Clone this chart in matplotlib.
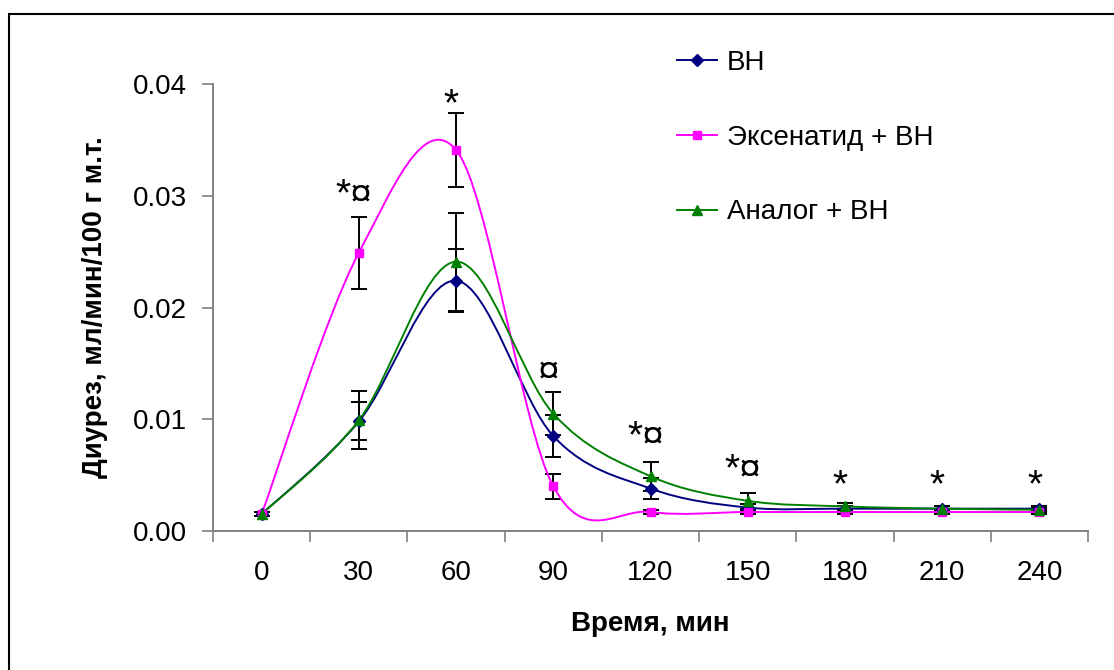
import numpy as np
import matplotlib
matplotlib.use('Agg')
import matplotlib.pyplot as plt
from matplotlib.path import Path
from matplotlib.patches import PathPatch
from matplotlib.lines import Line2D

plt.rcParams['font.family'] = ['Liberation Sans', 'DejaVu Sans']

# Time points (min)
times = [0, 30, 60, 90, 120, 150, 180, 210, 240]

# Diuresis, ml/min/100 g b.w.
vn_mean = [0.0015, 0.0098, 0.0224, 0.0085, 0.0038, 0.0021, 0.0020, 0.0020, 0.0020]
vn_err = [0.0002, 0.0017, 0.0028, 0.0019, 0.0009, 0.0003, 0.0002, 0.0002, 0.0002]
exe_mean = [0.0015, 0.0249, 0.0341, 0.0040, 0.0017, 0.0017, 0.0017, 0.0017, 0.0017]
exe_err = [0.0002, 0.0032, 0.0033, 0.0011, 0.0002, 0.0002, 0.0002, 0.0002, 0.0002]
ana_mean = [0.0015, 0.0099, 0.0241, 0.0105, 0.0049, 0.0027, 0.0022, 0.0020, 0.0019]
ana_err = [0.0002, 0.0026, 0.0044, 0.0019, 0.0013, 0.0007, 0.0003, 0.0002, 0.0002]

# significance marks: (time index, label, y)
marks_idx = [1, 2, 3, 4, 5, 6, 7, 8]
marks_txt = ['*¤', '*', '¤', '*¤', '*¤', '*', '*', '*']
marks_y = [0.0300, 0.0381, 0.0142, 0.0084, 0.0054, 0.0040, 0.0040, 0.0040]

series = [
    ('ВН', vn_mean, vn_err, '#000080', 'D', 6),
    ('Эксенатид + ВН', exe_mean, exe_err, '#FF00FF', 's', 6),
    ('Аналог + ВН', ana_mean, ana_err, '#008000', '^', 7),
]


def smooth_path(xs, ys):
    """Excel-like smoothed line as cubic Bezier segments"""
    n = len(xs)
    verts = [(xs[0], ys[0])]
    codes = [Path.MOVETO]
    for i in range(n - 1):
        a = i - 1 if i > 0 else i
        b = i + 2 if i + 2 < n else i + 1
        c1 = (xs[i] + (xs[i + 1] - xs[a]) / 6, ys[i] + (ys[i + 1] - ys[a]) / 6)
        c2 = (xs[i + 1] - (xs[b] - xs[i]) / 6, ys[i + 1] - (ys[b] - ys[i]) / 6)
        verts += [c1, c2, (xs[i + 1], ys[i + 1])]
        codes += [Path.CURVE4] * 3
    return Path(verts, codes)


fig = plt.figure(figsize=(11.14, 6.70), dpi=100)
ax = fig.add_axes([213 / 1114, 1 - 531 / 670, 875 / 1114, 447 / 670])

x = np.arange(len(times))
handles = []
for label, mean, err, color, marker, ms in series:
    ax.errorbar(x, mean, yerr=err, fmt='none', ecolor='black', elinewidth=1.4,
                capsize=6, capthick=1.4, zorder=2)
    ax.add_patch(PathPatch(smooth_path(x, mean), facecolor='none', edgecolor=color,
                           linewidth=1.4, zorder=3))
    ax.plot(x, mean, linestyle='none', marker=marker, markersize=ms, color=color, zorder=4)
    handles.append(Line2D([], [], color=color, linewidth=1.4, marker=marker, markersize=ms))

for i, txt, yv in zip(marks_idx, marks_txt, marks_y):
    ax.text(x[i] - 0.05, yv, txt, ha='center', va='center', fontsize=28)

ax.set_xlim(-0.5, len(times) - 0.5)
ax.set_ylim(0, 0.04)
ax.set_yticks([0, 0.01, 0.02, 0.03, 0.04])
ax.set_yticklabels(['0.00', '0.01', '0.02', '0.03', '0.04'])

# category axis: ticks between categories, labels at the centres
ax.set_xticks(np.arange(len(times) + 1) - 0.5)
ax.set_xticklabels([])
ax.set_xticks(x, minor=True)
ax.set_xticklabels([str(t) for t in times], minor=True)
ax.tick_params(axis='x', which='minor', length=0, pad=21, labelsize=20)
ax.tick_params(axis='x', which='major', length=8, width=1.2, color='#808080', direction='out')
ax.tick_params(axis='y', length=8, width=1.2, color='#808080', direction='out', pad=11,
               labelsize=20)

for side in ['top', 'right']:
    ax.spines[side].set_visible(False)
for side in ['left', 'bottom']:
    ax.spines[side].set_color('#808080')
    ax.spines[side].set_linewidth(1.4)

ax.set_xlabel('Время, мин', fontsize=20, fontweight='bold', va='center')
ax.xaxis.set_label_coords(0.5, (531 - 624) / 447)
ax.set_ylabel('Диурез, мл/мин/100 г м.т.', fontsize=20, fontweight='bold', va='center')
ax.yaxis.set_label_coords((95 - 213) / 875, 0.5)

ax.legend(handles, [s[0] for s in series], loc='upper left', frameon=False,
          bbox_to_anchor=(677 / 1114, 1 - 50 / 670), bbox_transform=fig.transFigure,
          borderpad=0, borderaxespad=0, handlelength=1.45, handletextpad=0.35,
          labelspacing=1.75, fontsize=20)

# outer chart border
fig.add_artist(plt.Rectangle((9 / 1114, -0.05), 1.2, 1 - 14 / 670 + 0.05,
                             transform=fig.transFigure, fill=False,
                             edgecolor='black', linewidth=1.5))

fig.savefig('out.png', dpi=100)
